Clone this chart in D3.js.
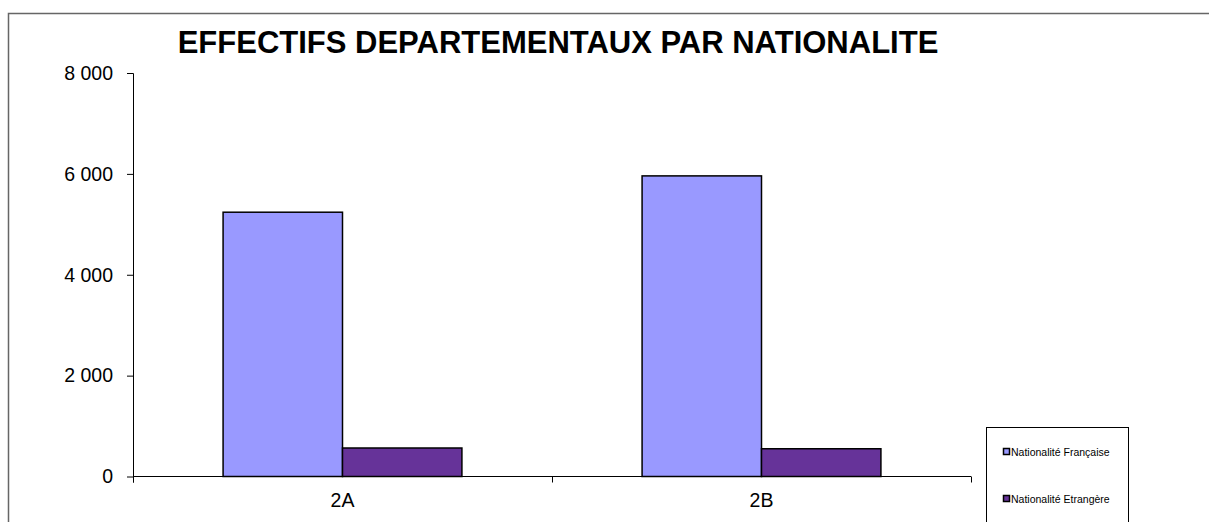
<!DOCTYPE html>
<html><head><meta charset="utf-8">
<script src="https://cdn.jsdelivr.net/npm/d3@7"></script>
<style>body{margin:0;background:#fff;}svg{display:block;font-family:Arial,"Liberation Sans",sans-serif;}</style>
</head><body>
<svg id="chart" width="1209" height="522"></svg>
<script>
const categories = ["2A", "2B"];
const seriesNames = ["Nationalité Française", "Nationalité Etrangère"];
const francaise = [5240, 5960];
const etrangere = [565, 550];
const yTicks = [0, 2000, 4000, 6000, 8000];
const title = "EFFECTIFS DEPARTEMENTAUX PAR NATIONALITE";
const colors = ["#9999FF", "#663399"];

const svg = d3.select("#chart");
const values = [francaise, etrangere];
const rows = categories.map((c, i) => ({cat: c, vals: values.map(v => v[i])}));

// outer frame
svg.append("rect").attr("x", 8.5).attr("y", 13.5).attr("width", 1240).attr("height", 560)
  .attr("fill", "none").attr("stroke", "#666").attr("stroke-width", 1.5);

const pLeft = 133, pRight = 971, pTop = 73, pBottom = 476.5;
const y = d3.scaleLinear().domain([0, 8000]).range([pBottom, pTop]);
const x0 = d3.scaleBand().domain(categories).range([pLeft, pRight]).paddingInner(0.43).paddingOuter(0.215);
const x1 = d3.scaleBand().domain(seriesNames).range([0, x0.bandwidth()]);

const loc = d3.formatLocale({decimal: ",", thousands: "\u00a0", grouping: [3], currency: ["", " €"]});
const fmt = loc.format(",d");

// y axis
const yAxis = svg.append("g").attr("transform", `translate(${pLeft},0)`)
  .call(d3.axisLeft(y).tickValues(yTicks).tickFormat(fmt).tickSize(6).tickPadding(14));
yAxis.select(".domain").attr("d", `M-6,${pTop}.5H0.5V${pBottom + 6}`).attr("stroke", "#000");
yAxis.selectAll("text").attr("font-size", 19.5).attr("fill", "#000").attr("font-family", "Arial, 'Liberation Sans', sans-serif");

// bars
const g = svg.append("g");
rows.forEach(r => {
  seriesNames.forEach((s, j) => {
    g.append("rect")
      .attr("x", x0(r.cat) + x1(s))
      .attr("y", y(r.vals[j]))
      .attr("width", x1.bandwidth())
      .attr("height", y(0) - y(r.vals[j]))
      .attr("fill", colors[j]).attr("stroke", "#000").attr("stroke-width", 1.5);
  });
});

// x axis
const step = x0.step();
const bounds = d3.range(categories.length + 1).map(i => pLeft + i * step);
const xg = svg.append("g");
xg.append("line").attr("x1", pLeft).attr("x2", pRight).attr("y1", pBottom).attr("y2", pBottom).attr("stroke", "#000");
bounds.forEach(b => xg.append("line").attr("x1", Math.round(b) + 0.5).attr("x2", Math.round(b) + 0.5)
  .attr("y1", pBottom).attr("y2", pBottom + 6).attr("stroke", "#000"));
const xAxis = svg.append("g").attr("transform", `translate(0,${pBottom})`)
  .call(d3.axisBottom(x0).tickSize(0).tickPadding(17));
xAxis.select(".domain").remove();
xAxis.selectAll("text").attr("font-size", 19.5).attr("fill", "#000").attr("font-family", "Arial, 'Liberation Sans', sans-serif");

// title
svg.append("text").attr("x", 558).attr("y", 53).attr("text-anchor", "middle")
  .attr("font-size", 31).attr("font-weight", "bold").text(title);

// legend
const lg = svg.append("g");
lg.append("rect").attr("x", 986.5).attr("y", 427.5).attr("width", 142).attr("height", 120)
  .attr("fill", "#fff").attr("stroke", "#000").attr("stroke-width", 1);
const legY = [452, 499];
seriesNames.forEach((s, j) => {
  lg.append("rect").attr("x", 1003.5).attr("y", legY[j] - 3.5).attr("width", 6).attr("height", 6)
    .attr("fill", colors[j]).attr("stroke", "#000").attr("stroke-width", 1.5);
  lg.append("text").attr("x", 1011).attr("y", legY[j] + 3.7).attr("font-size", 10.5).attr("fill", "#000").text(s);
});
</script>
</body></html>
